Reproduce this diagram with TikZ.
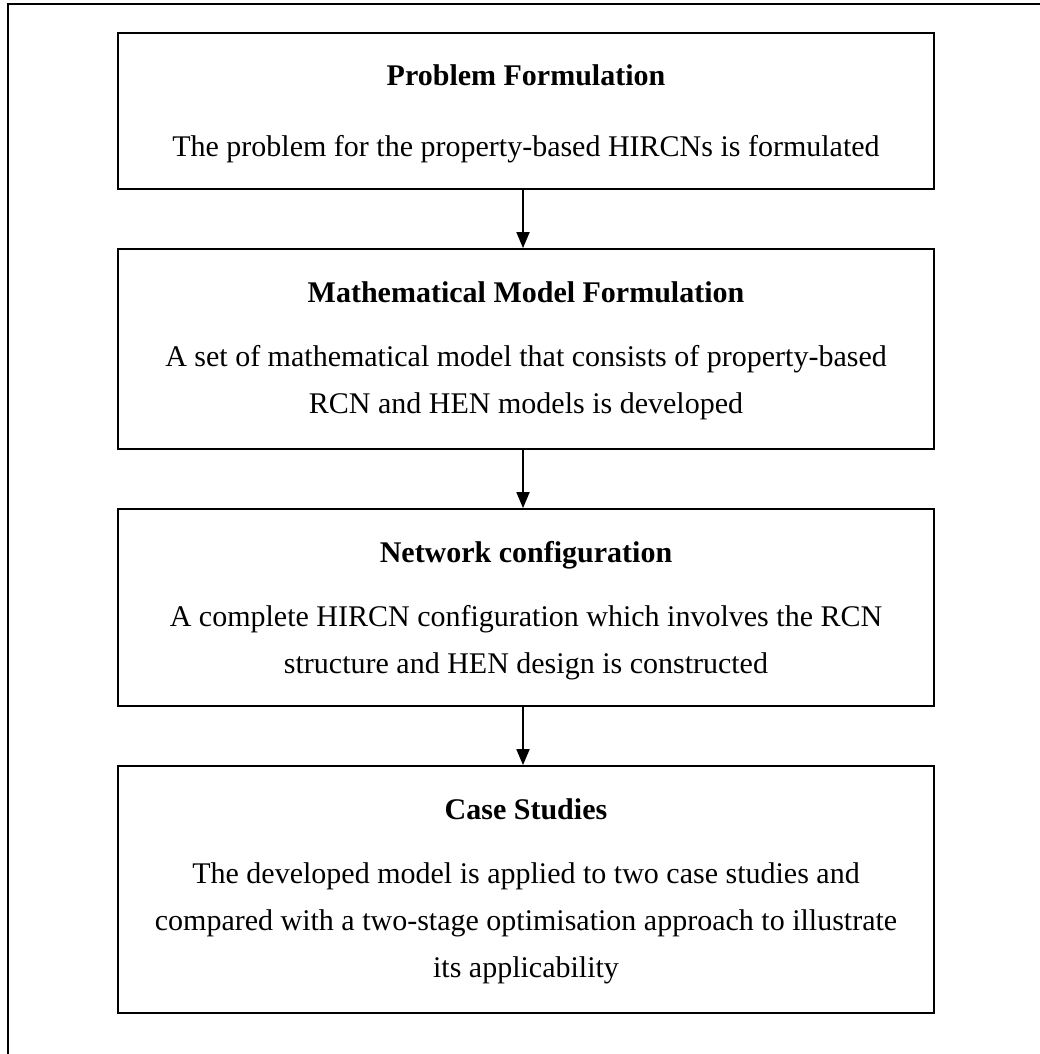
\documentclass[tikz,border=0pt]{standalone}
\usepackage{fontspec}
\setmainfont{Liberation Serif}
\usetikzlibrary{arrows.meta}
\begin{document}
\begin{tikzpicture}[x=1pt,y=-1pt,
  stagebox/.style={draw, line width=1.8pt, minimum width=816pt, inner sep=0pt},
  txt/.style={anchor=base, inner sep=0pt, font=\fontsize{30}{36}\selectfont},
  ttl/.style={txt, font=\fontsize{30}{36}\selectfont\bfseries},
  flow/.style={line width=1.8pt, -{Triangle[width=13pt,length=16pt]}}]
\useasboundingbox (0,0) rectangle (1040,1054);
% outer frame, open at right and bottom
\draw[line width=2pt] (8,1054) -- (8,4) -- (1040,4);

% stage boxes
\node[stagebox, minimum height=156pt] (b1) at (526,111) {};
\node[stagebox, minimum height=200pt] (b2) at (526,349) {};
\node[stagebox, minimum height=197pt] (b3) at (526,607.5) {};
\node[stagebox, minimum height=247pt] (b4) at (526,889.5) {};

% texts
\node[ttl] (t1) at (526,86) {Problem Formulation};
\node[txt] (l11) at (526,157) {The problem for the property-based HIRCNs is formulated};

\node[ttl] (t2) at (526,302) {Mathematical Model Formulation};
\node[txt] (l21) at (526,366) {A set of mathematical model that consists of property-based};
\node[txt] (l22) at (526,413) {RCN and HEN models is developed};

\node[ttl] (t3) at (526,562) {Network configuration};
\node[txt] (l31) at (526,626) {A complete HIRCN configuration which involves the RCN};
\node[txt] (l32) at (526,673) {structure and HEN design is constructed};

\node[ttl] (t4) at (526,819) {Case Studies};
\node[txt] (l41) at (526,883) {The developed model is applied to two case studies and};
\node[txt] (l42) at (526,930) {compared with a two-stage optimisation approach to illustrate};
\node[txt] (l43) at (526,977) {its applicability};

% connectors
\draw[flow] ([xshift=-3pt]b1.south) -- ([xshift=-3pt]b2.north);
\draw[flow] ([xshift=-3pt]b2.south) -- ([xshift=-3pt]b3.north);
\draw[flow] ([xshift=-3pt]b3.south) -- ([xshift=-3pt]b4.north);
\end{tikzpicture}
\end{document}
